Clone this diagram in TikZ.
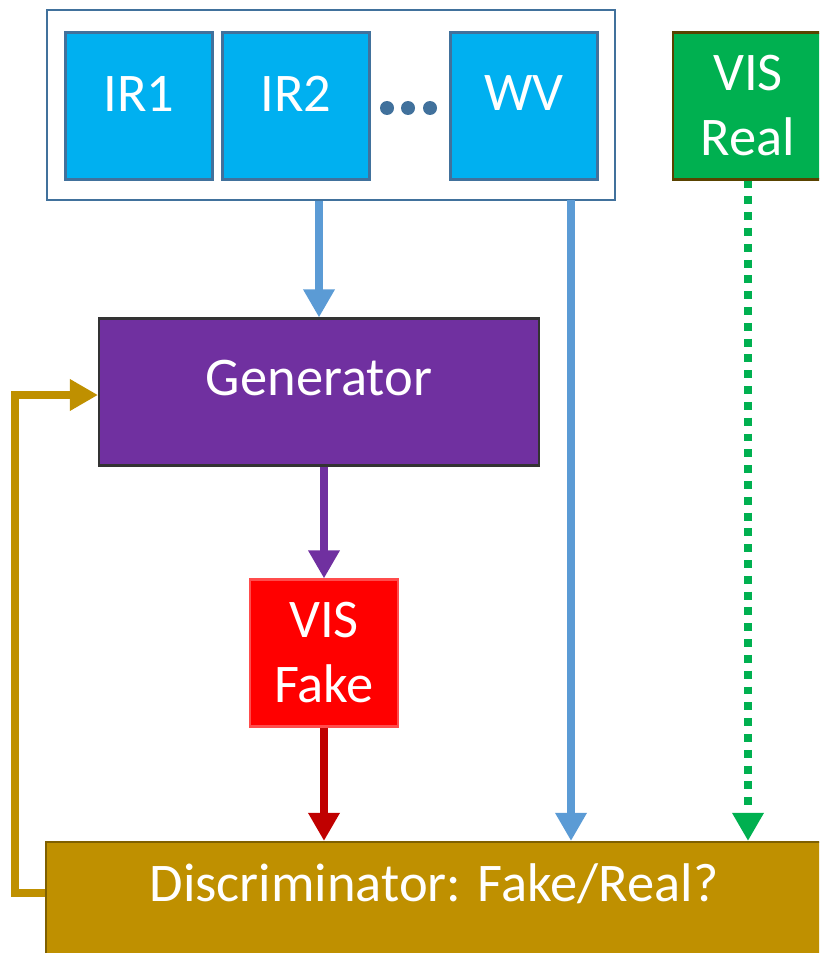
\documentclass[tikz,border=0pt]{standalone}
\usepackage{fontspec}
\setmainfont{Carlito}
\usetikzlibrary{arrows.meta}

\definecolor{irblue}{HTML}{00B0F0}
\definecolor{boxedge}{HTML}{41719C}
\definecolor{arrblue}{HTML}{5B9BD5}
\definecolor{genpurple}{HTML}{7030A0}
\definecolor{fakered}{HTML}{FF0000}
\definecolor{darkred}{HTML}{C00000}
\definecolor{realgreen}{HTML}{00B050}
\definecolor{discgold}{HTML}{BF9000}
\definecolor{goldedge}{HTML}{7F6000}

\tikzset{
  blk/.style={inner sep=0pt, align=center, text=white, line width=1.2pt,
    font=\fontsize{31}{37}\selectfont},
  chan/.style={blk, fill=irblue, draw=boxedge, minimum width=2.94cm, minimum height=2.94cm, text depth=0.5cm},
  flow/.style={line width=4pt, -{Triangle[width=17pt, length=16pt]}}
}

\begin{document}
\begin{tikzpicture}[x=0.02cm, y=-0.02cm]
    \clip (0,0) rectangle (819,953);

    % input channels
    \node[draw=boxedge, line width=1.2pt, minimum width=11.36cm, minimum height=3.8cm] (inputs) at (331,105) {};
    \node[chan] (ir1) at (139,106) {IR1};
    \node[chan] (ir2) at (296,106) {IR2};
    \node[chan] (wv) at (524,106) {WV};
    \foreach \x in {387,408,430} \fill[boxedge] (\x,108) circle (7);

    \node[blk, fill=realgreen, draw=goldedge!70!black, minimum width=3.0cm, minimum height=2.94cm] (visreal) at (748,106) {VIS\\Real};

    \node[blk, fill=genpurple, draw=black!80, minimum width=8.8cm, minimum height=2.94cm, text depth=0.55cm] (gen) at (319,392) {Generator};
    \node[blk, fill=fakered, draw=red!70!white, minimum width=2.96cm, minimum height=2.94cm] (visfake) at (324,653) {VIS\\Fake};
    \node[blk, fill=discgold, draw=goldedge, minimum width=16cm, minimum height=2.6cm] (disc) at (446,907) {};
    \node[blk] (disctext) at (434,884) {Discriminator: Fake/Real?};

    \coordinate (wvout) at (571,200);
    \coordinate (loopx) at (15,0);

    % connectors
    \draw[flow, arrblue] (gen.north |- inputs.south) -- (gen.north);
    \draw[flow, arrblue] (wvout) -- (wvout |- disc.north);
    \draw[flow, realgreen, dash pattern=on 4.5pt off 4.5pt] (visreal.south) -- (visreal.south |- disc.north);
    \draw[flow, genpurple] (gen.south -| visfake.north) -- (visfake.north);
    \draw[flow, darkred] (visfake.south) -- (visfake.south |- disc.north);
    \draw[flow, discgold, line width=4.5pt] (disc.west |- 0,893) -- (loopx |- 0,893) -- (loopx |- 0,395) -- (gen.west |- 0,395);
\end{tikzpicture}
\end{document}
